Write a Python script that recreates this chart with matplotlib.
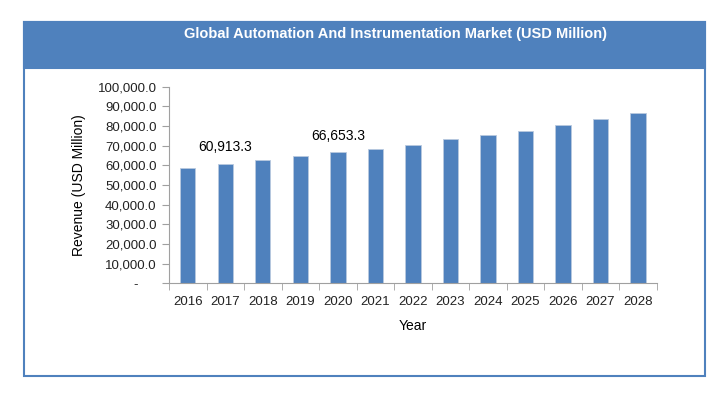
import matplotlib.pyplot as plt
from matplotlib.patches import Rectangle

plt.rcParams['font.family'] = ['Liberation Sans', 'DejaVu Sans']

# Datos
years = ['2016', '2017', '2018', '2019', '2020', '2021', '2022',
         '2023', '2024', '2025', '2026', '2027', '2028']
revenue = [58900, 60913.3, 62700, 64600, 66653.3, 68300, 70400,
           73200, 75300, 77300, 80500, 83700, 86400]
labeled = {'2017': '60,913.3', '2020': '66,653.3'}
y_ticks = [0, 10000, 20000, 30000, 40000, 50000, 60000, 70000, 80000, 90000, 100000]

W, H = 725, 399
fig = plt.figure(figsize=(W / 100, H / 100), dpi=100)

# Marco exterior y banda del titulo
fig.patches.append(Rectangle((24 / W, 1 - 376 / H), 681 / W, 354 / H,
                             transform=fig.transFigure, fill=False,
                             edgecolor='#4F81BD', linewidth=1.5))
fig.patches.append(Rectangle((24 / W, 1 - 68 / H), 681 / W, 46 / H,
                             transform=fig.transFigure, facecolor='#4F81BD',
                             edgecolor='#4F81BD', linewidth=1.5))
fig.text(396 / W, 1 - 34 / H, 'Global Automation And Instrumentation Market (USD Million)',
         color='white', fontsize=10.5, fontweight='bold', ha='center', va='center')

ax = fig.add_axes([169 / W, 1 - 283.3 / H, (656.7 - 169) / W, (283.3 - 86.7) / H])
x = list(range(len(years)))
ax.bar(x, revenue, width=0.41, color='#4F81BD', edgecolor='#B9C9DF', linewidth=0.6)

for i, yr in enumerate(years):
    if yr in labeled:
        ax.text(i, revenue[i] + 8200, labeled[yr], ha='center', va='center',
                fontsize=10, color='black')

ax.set_xlim(-0.5, len(years) - 0.5)
ax.set_ylim(0, 100000)
ax.set_yticks(y_ticks)
ax.set_yticklabels(['-     ' if v == 0 else f'{v:,.1f}' for v in y_ticks])
ax.set_xticks(x)
ax.set_xticklabels(years)
ax.set_xticks([i - 0.5 for i in range(len(years) + 1)], minor=True)
ax.tick_params(axis='x', which='major', length=0, pad=9, labelsize=9.5, labelcolor='#222222')
ax.tick_params(axis='x', which='minor', length=5, color='#A0A0A0')
ax.tick_params(axis='y', length=5, color='#A0A0A0', labelsize=9.5, labelcolor='#222222', pad=4)

for side in ['top', 'right']:
    ax.spines[side].set_visible(False)
ax.spines['left'].set_color('#A0A0A0')
ax.spines['bottom'].set_color('#A0A0A0')

ax.set_ylabel('Revenue (USD Million)', fontsize=10, color='black', labelpad=8)
ax.set_xlabel('Year', fontsize=10, color='black', labelpad=8)

plt.savefig('out.png', dpi=100)
